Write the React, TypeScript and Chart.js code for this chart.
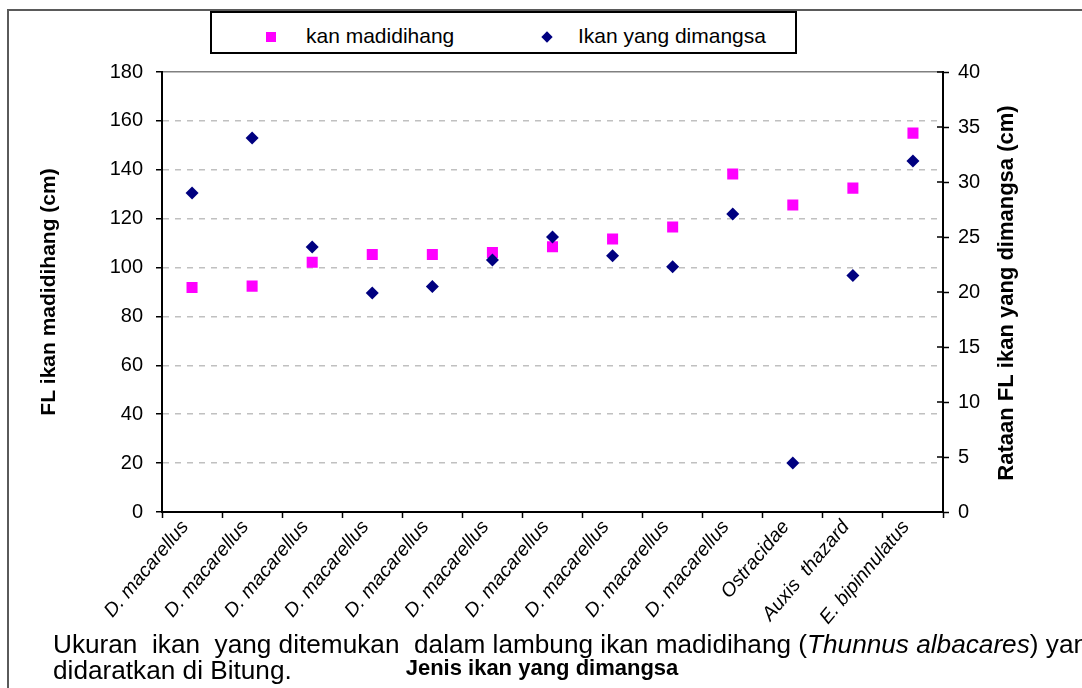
import React, { useEffect, useRef } from "react";
import { Chart, registerables } from "chart.js";

Chart.register(...registerables);

const categories = [
  "D. macarellus",
  "D. macarellus",
  "D. macarellus",
  "D. macarellus",
  "D. macarellus",
  "D. macarellus",
  "D. macarellus",
  "D. macarellus",
  "D. macarellus",
  "D. macarellus",
  "Ostracidae",
  "Auxis  thazard",
  "E. bipinnulatus",
];
const madidihangFL = [91.8, 92.4, 102.2, 105.3, 105.3, 106.2, 108.5, 111.7, 116.6, 138.3, 125.6, 132.5, 155.0];
const preyFL = [29.0, 34.0, 24.1, 19.9, 20.5, 22.9, 25.0, 23.3, 22.3, 27.1, 4.45, 21.5, 31.9];
const leftAxisRange = [0, 180, 20];
const rightAxisRange = [0, 40, 5];

const seriesNames = ["kan madidihang", "Ikan yang dimangsa"];
const leftTitle = "FL ikan madidihang (cm)";
const rightTitle = "Rataan FL ikan yang dimangsa (cm)";
const xTitle = "Jenis ikan yang dimangsa";

const FONT = "'Liberation Sans', Arial, Helvetica, sans-serif";

const extrasPlugin = {
  id: "extras",
  afterDraw(chart: any) {
    const ctx = chart.ctx;
    const y1 = chart.scales.y1;
    const area = chart.chartArea;
    ctx.save();
    // inner halves of the right-axis tick marks (they cross the axis)
    ctx.strokeStyle = "#000";
    ctx.lineWidth = 1.5;
    y1.ticks.forEach((t: any) => {
      const py = y1.getPixelForValue(t.value);
      ctx.beginPath();
      ctx.moveTo(area.right - 6, py);
      ctx.lineTo(area.right, py);
      ctx.stroke();
    });
    // right axis title, reading bottom to top
    ctx.fillStyle = "#000";
    ctx.font = `bold 22px ${FONT}`;
    ctx.textAlign = "center";
    ctx.textBaseline = "middle";
    ctx.translate(1007, (area.top + area.bottom) / 2 + 1);
    ctx.rotate(-Math.PI / 2);
    ctx.fillText(rightTitle, 0, 0);
    ctx.restore();
    // x axis title
    ctx.save();
    ctx.fillStyle = "#000";
    ctx.font = `bold 22px ${FONT}`;
    ctx.textAlign = "center";
    ctx.textBaseline = "middle";
    ctx.fillText(xTitle, 542, 669);
    ctx.restore();
  },
};

export default function App() {
  const canvasRef = useRef<HTMLCanvasElement | null>(null);

  useEffect(() => {
    if (!canvasRef.current) return;
    const chart = new Chart(canvasRef.current, {
      type: "line",
      data: {
        labels: categories,
        datasets: [
          {
            label: seriesNames[0],
            data: madidihangFL,
            yAxisID: "y",
            showLine: false,
            pointStyle: "rect",
            pointRadius: 7.8,
            pointHoverRadius: 7.8,
            backgroundColor: "#FF00FF",
            borderColor: "#FF00FF",
            pointBorderWidth: 0,
            order: 2,
          },
          {
            label: seriesNames[1],
            data: preyFL,
            yAxisID: "y1",
            showLine: false,
            pointStyle: "rectRot",
            pointRadius: 6.5,
            pointHoverRadius: 6.5,
            backgroundColor: "#000080",
            borderColor: "#000080",
            pointBorderWidth: 0,
            order: 1,
          },
        ],
      },
      options: {
        responsive: false,
        animation: false,
        devicePixelRatio: 1,
        layout: { padding: { left: 0, right: 0, top: 72, bottom: 0 } },
        plugins: {
          legend: { display: false },
          title: { display: false },
          tooltip: { enabled: false },
        },
        scales: {
          x: {
            type: "category",
            offset: true,
            grid: {
              offset: true,
              drawOnChartArea: false,
              drawTicks: true,
              tickLength: 6,
              tickColor: "#000",
              tickWidth: 1.5,
            },
            border: { display: true, color: "#000", width: 2 },
            ticks: {
              autoSkip: false,
              minRotation: 50,
              maxRotation: 50,
              padding: -2,
              labelOffset: -7,
              color: "#000",
              font: { family: FONT, size: 19.5, style: "italic" },
            },
            afterFit: (s: any) => {
              s.height = 176;
            },
          },
          y: {
            type: "linear",
            position: "left",
            min: leftAxisRange[0],
            max: leftAxisRange[1],
            ticks: {
              stepSize: leftAxisRange[2],
              padding: 13,
              color: "#000",
              font: { family: FONT, size: 20 },
            },
            grid: {
              color: (c: any) =>
                c.tick && c.tick.value === leftAxisRange[1]
                  ? "#808080"
                  : c.tick && c.tick.value === leftAxisRange[0]
                  ? "rgba(0,0,0,0)"
                  : "#c0c0c0",
              lineWidth: 1.5,
              tickLength: 6,
              tickColor: "#000",
              tickWidth: 1.5,
            },
            border: {
              display: true,
              color: "#000",
              width: 2,
              dash: (c: any) => (c.tick && c.tick.value === leftAxisRange[1] ? [] : [6, 6]),
            },
            title: {
              display: true,
              text: leftTitle,
              color: "#000",
              font: { family: FONT, size: 21, weight: "bold" },
              padding: { top: 37, bottom: 0 },
            },
            afterFit: (s: any) => {
              s.width = 162;
            },
          },
          y1: {
            type: "linear",
            position: "right",
            min: rightAxisRange[0],
            max: rightAxisRange[1],
            ticks: {
              stepSize: rightAxisRange[2],
              padding: 9,
              color: "#000",
              font: { family: FONT, size: 20 },
            },
            grid: {
              drawOnChartArea: false,
              tickLength: 6,
              tickColor: "#000",
              tickWidth: 1.5,
            },
            border: { display: true, color: "#000", width: 2 },
            afterFit: (s: any) => {
              s.width = 1082 - 943;
            },
          },
        },
      },
      plugins: [extrasPlugin],
    });
    return () => chart.destroy();
  }, []);

  return (
    <div
      style={{
        position: "fixed",
        left: 0,
        top: 0,
        width: 1082,
        height: 688,
        overflow: "hidden",
        background: "#fff",
        fontFamily: FONT,
      }}
    >
      <div
        style={{
          position: "absolute",
          left: 7,
          top: 9,
          width: 1200,
          height: 800,
          border: "2px solid #5a5a5a",
          boxSizing: "border-box",
        }}
      />
      <canvas
        ref={canvasRef}
        width={1082}
        height={688}
        style={{ position: "absolute", left: 0, top: 0, width: 1082, height: 688, display: "block" }}
      />
      <div
        style={{
          position: "absolute",
          left: 210,
          top: 11,
          width: 587,
          height: 43,
          boxSizing: "border-box",
          border: "2px solid #000",
          background: "#fff",
          fontSize: 21,
          color: "#000",
        }}
      >
        <div
          style={{ position: "absolute", left: 54, top: 19, width: 10, height: 10, background: "#FF00FF" }}
        />
        <div
          style={{ position: "absolute", left: 94, top: 10, lineHeight: "26px", whiteSpace: "nowrap" }}
        >
          {seriesNames[0]}
        </div>
        <div
          style={{
            position: "absolute",
            left: 331,
            top: 20,
            width: 8,
            height: 8,
            background: "#000080",
            transform: "rotate(45deg)",
          }}
        />
        <div
          style={{ position: "absolute", left: 366, top: 10, lineHeight: "26px", whiteSpace: "nowrap" }}
        >
          {seriesNames[1]}
        </div>
      </div>
      <div
        style={{
          position: "absolute",
          left: 53,
          top: 631,
          fontSize: 26.2,
          lineHeight: "26px",
          color: "#000",
          whiteSpace: "pre",
        }}
      >
        {"Ukuran  ikan  yang ditemukan  dalam lambung ikan madidihang ("}
        <i>Thunnus albacares</i>
        {") yang\ndidaratkan di Bitung."}
      </div>
    </div>
  );
}
